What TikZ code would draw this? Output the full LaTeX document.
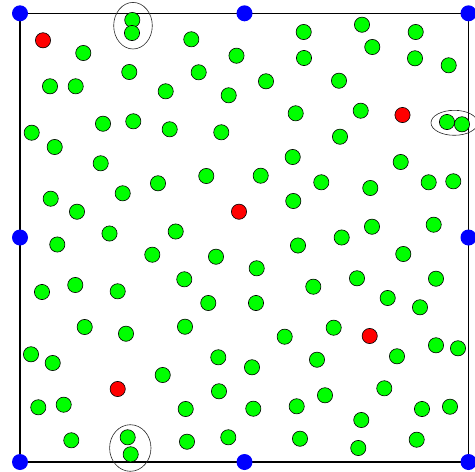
\documentclass[tikz,border=0pt]{standalone}
\begin{document}
\begin{tikzpicture}[x=1pt,y=-1pt,
  gc/.style={circle,draw=black,line width=0.6pt,fill={rgb,255:red,0;green,255;blue,0},minimum size=15.2pt,inner sep=0pt},
  rc/.style={circle,draw=black,line width=0.6pt,fill={rgb,255:red,255;green,0;blue,0},minimum size=15.2pt,inner sep=0pt},
  bc/.style={circle,draw=none,fill={rgb,255:red,0;green,0;blue,255},minimum size=16pt,inner sep=0pt},
  frame/.style={draw=black,line width=1.1pt},
  pairring/.style={draw=black!85,line width=0.6pt}]
\useasboundingbox (0,0) rectangle (475,472);
% corners and mid-edge points
\coordinate (c1) at (20,13.3);
\coordinate (c2) at (244.5,13.3);
\coordinate (c3) at (468.5,13.3);
\coordinate (c4) at (468.5,237.5);
\coordinate (c5) at (468.5,462);
\coordinate (c6) at (244.5,462);
\coordinate (c7) at (20,462);
\coordinate (c8) at (20,237.5);
\draw[frame] (c1) -- (c3) -- (c5) -- (c7) -- cycle;
% pair rings
\draw[pairring] (133,25.7) ellipse [x radius=19.3pt, y radius=23.3pt];
\draw[pairring] (454.3,122.8) ellipse [x radius=23.3pt, y radius=12.5pt];
\draw[pairring] (130.3,448) ellipse [x radius=20.7pt, y radius=23.3pt];
% green points
\foreach \px/\py [count=\i] in {
132.3/20, 132/33, 83.3/53, 191.3/39.3, 236.5/55.7, 303.7/32, 362/24.7, 415.7/32,
372.3/47, 304/58, 415/58.3, 448.7/65.3, 129.3/72, 198.7/72.3, 50/86.3, 75.7/86.3,
165.7/91.3, 228.7/95.3, 266/81.3, 339/80.7, 31.7/132.7, 103/123.7, 133.3/121.3,
169.7/129.3, 221.3/132.3, 295.7/113.3, 360.7/110.7, 447/122, 462/124.3, 340/136.7,
54.7/147, 100.7/163.3, 292.7/157, 400.7/162, 206.3/176, 158/183.3, 122.7/193.3,
260.7/175.7, 321.3/182.3, 370.3/188, 428.7/182.3, 453.3/181.3, 50.7/198.7, 77/211.7,
293.3/201, 109.5/233.5, 175.7/231.5, 57.3/244.5, 372/226.7, 433.7/224.7, 341.7/237.5,
298/245.5, 152.3/254.7, 216/256.7, 403.3/254, 256.7/268.3, 42/292, 75.3/285,
117.7/291.3, 184.3/279.3, 313.3/286.7, 357/278.3, 436/278.7, 387.7/298, 420/307.3,
208.3/303, 256/303, 84.7/327, 126/333.7, 185/326.7, 284.7/336.7, 333.7/327.7,
436/345.3, 458/348.3, 31/354.3, 52.7/363, 218.3/357.3, 252/367.3, 317/359.7,
397/356.3, 162.7/375, 219/391.3, 325/395.3, 384.3/388.3, 38.3/407.3, 63.7/404.7,
185.7/409, 253.3/408.7, 296.7/406.3, 361.3/420, 422/409, 450/406.7, 71.3/440.3,
127.7/437.3, 130.7/454.3, 187/441.7, 228.3/437.3, 300/438.7, 358.3/448, 416.7/439.7}
  \node[gc] (g\i) at (\px,\py) {};
% red points
\node[rc] (r1) at (43,40.3) {};
\node[rc] (r2) at (402.5,115) {};
\node[rc] (r3) at (239,211.7) {};
\node[rc] (r4) at (369.7,336) {};
\node[rc] (r5) at (117.7,389) {};
% blue points
\foreach \i in {1,...,8}
  \node[bc] (b\i) at (c\i) {};
\end{tikzpicture}
\end{document}
